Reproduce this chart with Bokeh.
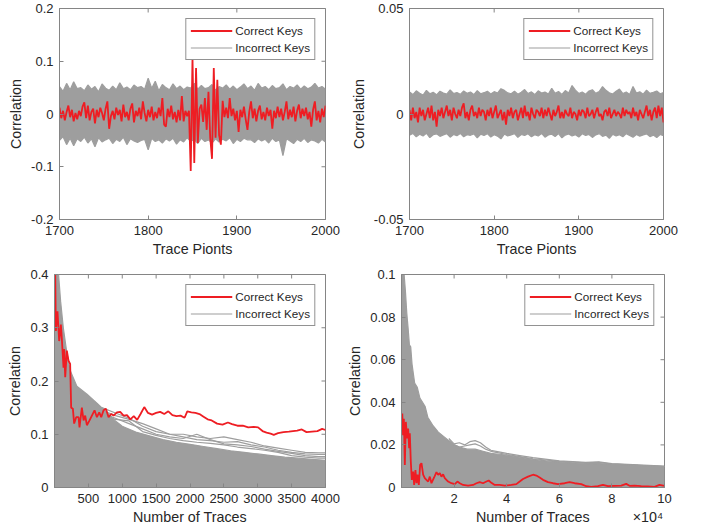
import math
from bokeh.plotting import figure
from bokeh.layouts import column, row
from bokeh.models import (Range1d, FixedTicker, LinearAxis, CustomJSTickFormatter,
                          Legend, LegendItem)
from bokeh.embed import file_html
from bokeh.resources import INLINE

# ---------------- data ----------------
# Top-left: trace points 1700..2000, red = correct key, gray band = incorrect keys
tl_red_x = list(range(1700, 2001, 2))
tl_red_y = [0.012, -0.008, 0.006, -0.012, 0.004, 0.016, -0.006, 0.008, -0.014, 0.002,
            -0.010, 0.006, -0.004, 0.014, 0.022, -0.008, 0.016, -0.012, 0.004, 0.010,
            -0.018, 0.008, -0.006, 0.012, 0.002, -0.012, 0.010, 0.024, -0.028, -0.004,
            0.006, -0.010, 0.012, -0.002, 0.008, -0.014, 0.018, -0.006, 0.004, -0.012,
            0.010, 0.020, -0.016, 0.006, -0.004, 0.012, -0.010, 0.024, 0.002, -0.014,
            0.008, -0.006, 0.014, -0.012, 0.004, -0.008, 0.012, -0.004, 0.030, -0.020,
            -0.024, 0.010, -0.006, 0.016, -0.010, 0.004, -0.016, 0.008, -0.012, 0.034,
            -0.014, 0.006, -0.004, 0.006, -0.108, 0.107, -0.093, 0.087, -0.055, 0.010,
            0.018, -0.015, 0.030, -0.030, 0.042, -0.045, -0.085, 0.087, -0.045, 0.065,
            -0.040, -0.058, 0.025, -0.006, 0.012, -0.008, 0.030, -0.004, 0.010, -0.012,
            0.006, -0.034, 0.008, -0.006, 0.014, -0.010, -0.030, 0.004, 0.024, -0.008,
            0.010, -0.014, 0.006, 0.016, -0.010, 0.004, -0.012, 0.012, -0.004, 0.008,
            -0.028, 0.006, -0.008, 0.014, -0.006, 0.010, -0.012, 0.004, 0.024, -0.010,
            0.008, -0.006, 0.014, -0.014, 0.006, 0.018, -0.008, 0.010, -0.004, 0.012,
            -0.010, 0.004, -0.024, 0.008, 0.024, -0.012, 0.006, -0.016, 0.010, -0.006,
            0.016]
tl_gray_x = list(range(1700, 2001, 4))
tl_gray_hi = [0.052, 0.043, 0.058, 0.046, 0.061, 0.048, 0.050, 0.044, 0.055, 0.047,
              0.052, 0.042, 0.057, 0.049, 0.045, 0.053, 0.046, 0.059, 0.048, 0.051,
              0.046, 0.055, 0.050, 0.052, 0.047, 0.068, 0.049, 0.062, 0.044, 0.056,
              0.050, 0.046, 0.057, 0.048, 0.053, 0.046, 0.051, 0.049, 0.058, 0.047,
              0.054, 0.048, 0.050, 0.056, 0.045, 0.052, 0.049, 0.055, 0.047, 0.053,
              0.046, 0.051, 0.057, 0.048, 0.053, 0.045, 0.058, 0.049, 0.052, 0.046,
              0.054, 0.048, 0.050, 0.057, 0.046, 0.052, 0.049, 0.055, 0.047, 0.053,
              0.048, 0.051, 0.058, 0.049, 0.052, 0.047]
tl_gray_lo = [-0.050, -0.043, -0.058, -0.046, -0.060, -0.047, -0.052, -0.044, -0.055, -0.047,
              -0.062, -0.045, -0.053, -0.049, -0.046, -0.056, -0.048, -0.052, -0.044, -0.058,
              -0.047, -0.051, -0.054, -0.050, -0.048, -0.068, -0.046, -0.052, -0.049, -0.055,
              -0.047, -0.051, -0.046, -0.057, -0.049, -0.053, -0.045, -0.052, -0.048, -0.056,
              -0.046, -0.052, -0.049, -0.055, -0.047, -0.053, -0.048, -0.051, -0.045, -0.056,
              -0.048, -0.052, -0.046, -0.049, -0.049, -0.054, -0.047, -0.051, -0.048, -0.055,
              -0.046, -0.052, -0.049, -0.079, -0.047, -0.051, -0.056, -0.048, -0.052, -0.046,
              -0.054, -0.049, -0.051, -0.055, -0.048, -0.053]

# Top-right
tr_red_x = list(range(1700, 2001, 2))
tr_red_y = [0.002, -0.003, 0.003, -0.002, 0.001, -0.004, 0.003, -0.001, 0.002, -0.003,
            0.000, 0.003, -0.002, 0.004, -0.003, 0.001, -0.006, 0.002, -0.001, 0.003,
            -0.002, 0.001, 0.004, -0.001, 0.002, -0.003, 0.003, 0.000, -0.002, 0.002,
            -0.001, 0.003, 0.005, -0.002, 0.001, -0.003, 0.002, 0.004, -0.001, 0.001,
            -0.002, 0.003, -0.001, 0.002, 0.001, -0.003, 0.002, -0.001, 0.003, -0.002,
            0.001, 0.004, -0.002, 0.000, 0.002, -0.003, 0.001, -0.005, 0.002, -0.001,
            0.003, -0.002, 0.001, 0.002, -0.003, 0.000, 0.003, -0.002, 0.004, -0.001,
            0.001, -0.003, 0.003, 0.000, -0.002, 0.002, 0.001, -0.001, 0.003, -0.002,
            0.002, -0.001, 0.003, 0.000, -0.003, 0.002, -0.001, 0.001, 0.004, -0.002,
            0.001, -0.002, 0.002, 0.000, -0.001, 0.003, -0.002, 0.001, 0.000, -0.003,
            0.002, -0.001, 0.002, 0.001, -0.002, 0.003, -0.001, 0.000, 0.002, -0.002,
            0.001, 0.003, -0.001, 0.000, -0.003, 0.001, 0.002, -0.001, 0.003, -0.002,
            0.000, 0.002, -0.001, 0.001, 0.000, -0.002, 0.003, -0.001, 0.002, 0.000,
            0.001, -0.002, 0.003, -0.001, 0.001, -0.003, 0.002, 0.000, -0.002, 0.001,
            0.004, -0.001, 0.002, -0.003, 0.001, 0.003, -0.002, 0.004, -0.001, 0.003,
            -0.004]
tr_gray_x = list(range(1700, 2001, 4))
tr_gray_hi = [0.0105, 0.0092, 0.0110, 0.0098, 0.0090, 0.0112, 0.0096, 0.0103, 0.0091, 0.0108,
              0.0099, 0.0094, 0.0114, 0.0097, 0.0102, 0.0093, 0.0109, 0.0098, 0.0104, 0.0092,
              0.0111, 0.0096, 0.0101, 0.0108, 0.0095, 0.0106, 0.0099, 0.0120, 0.0112, 0.0100,
              0.0096, 0.0108, 0.0094, 0.0103, 0.0116, 0.0097, 0.0105, 0.0092, 0.0110, 0.0099,
              0.0104, 0.0095, 0.0122, 0.0098, 0.0107, 0.0093, 0.0111, 0.0100, 0.0135, 0.0113,
              0.0097, 0.0104, 0.0094, 0.0109, 0.0115, 0.0098, 0.0106, 0.0130, 0.0112, 0.0101,
              0.0095, 0.0108, 0.0118, 0.0097, 0.0104, 0.0092, 0.0130, 0.0099, 0.0105, 0.0094,
              0.0113, 0.0098, 0.0103, 0.0109, 0.0096, 0.0102]
tr_gray_lo = [-0.0100, -0.0092, -0.0108, -0.0096, -0.0104, -0.0091, -0.0112, -0.0098, -0.0094, -0.0106,
              -0.0099, -0.0093, -0.0110, -0.0097, -0.0103, -0.0092, -0.0108, -0.0098, -0.0101, -0.0094,
              -0.0113, -0.0096, -0.0102, -0.0093, -0.0109, -0.0098, -0.0105, -0.0118, -0.0095, -0.0104,
              -0.0099, -0.0093, -0.0111, -0.0097, -0.0102, -0.0094, -0.0108, -0.0098, -0.0104, -0.0092,
              -0.0110, -0.0099, -0.0096, -0.0107, -0.0093, -0.0113, -0.0100, -0.0095, -0.0104, -0.0098,
              -0.0109, -0.0094, -0.0102, -0.0097, -0.0111, -0.0099, -0.0093, -0.0106, -0.0100, -0.0115,
              -0.0096, -0.0104, -0.0098, -0.0108, -0.0093, -0.0102, -0.0110, -0.0097, -0.0105, -0.0099,
              -0.0094, -0.0107, -0.0100, -0.0112, -0.0097, -0.0103]

# Bottom-left: correlation vs number of traces (0..4000)
bl_red_x = [1, 10, 20, 44, 69, 94, 108, 133, 143, 158, 182, 207, 231, 246, 271, 290, 320, 355,
            369, 404, 429, 453, 478, 517, 552, 591, 626, 660, 690, 724, 759, 798, 837, 872,
            921, 970, 1020, 1070, 1120, 1170, 1220, 1270, 1325, 1380, 1440, 1500, 1560, 1620,
            1680, 1740, 1800, 1860, 1920, 1960, 2020, 2080, 2140, 2200, 2260, 2320, 2400, 2480,
            2560, 2620, 2700, 2780, 2860, 2940, 3005, 3070, 3130, 3190, 3236, 3300, 3380, 3460,
            3520, 3581, 3650, 3720, 3800, 3880, 3950, 4000]
bl_red_y = [0.45, 0.41, 0.294, 0.331, 0.275, 0.306, 0.28, 0.225, 0.26, 0.207, 0.257, 0.238,
            0.232, 0.15, 0.148, 0.12, 0.132, 0.132, 0.113, 0.15, 0.126, 0.135, 0.117, 0.126,
            0.135, 0.145, 0.132, 0.141, 0.132, 0.145, 0.148, 0.132, 0.138, 0.135, 0.141, 0.142,
            0.135, 0.136, 0.128, 0.134, 0.127, 0.138, 0.151, 0.14, 0.137, 0.14, 0.142, 0.138,
            0.143, 0.136, 0.134, 0.135, 0.131, 0.143, 0.141, 0.14, 0.138, 0.133, 0.128, 0.126,
            0.12, 0.118, 0.122, 0.119, 0.116, 0.116, 0.113, 0.114, 0.113, 0.106, 0.103, 0.101,
            0.099, 0.102, 0.104, 0.105, 0.106, 0.107, 0.109, 0.104, 0.105, 0.106, 0.11, 0.108]
bl_gray_x = [0, 30, 60, 90, 130, 180, 230, 330, 480, 630, 780, 900, 1000, 1200, 1400, 1600,
             1800, 2000, 2200, 2400, 2600, 2800, 3000, 3200, 3400, 3600, 3800, 4000]
bl_gray_top = [0.45, 0.44, 0.40, 0.35, 0.30, 0.255, 0.22, 0.19, 0.175, 0.158, 0.14, 0.125,
               0.115, 0.104, 0.097, 0.09, 0.085, 0.081, 0.077, 0.073, 0.069, 0.066, 0.063,
               0.06, 0.057, 0.055, 0.053, 0.051]
bl_line_x = [700, 900, 1100, 1300, 1500, 1700, 1900, 2100, 2300, 2500, 2700, 2900, 3100,
             3300, 3500, 3700, 3900, 4000]
bl_line_1 = [0.15, 0.14, 0.13, 0.115, 0.105, 0.1, 0.1, 0.095, 0.092, 0.095, 0.09, 0.085,
             0.078, 0.074, 0.07, 0.066, 0.065, 0.065]
bl_line_2 = [0.145, 0.135, 0.128, 0.12, 0.11, 0.1, 0.095, 0.09, 0.088, 0.085, 0.086, 0.08,
             0.076, 0.07, 0.066, 0.063, 0.062, 0.062]
bl_line_3 = [0.14, 0.13, 0.12, 0.11, 0.1, 0.095, 0.092, 0.1, 0.09, 0.082, 0.08, 0.077,
             0.072, 0.068, 0.064, 0.06, 0.058, 0.058]
bl_line_4 = [0.135, 0.128, 0.125, 0.105, 0.098, 0.092, 0.088, 0.085, 0.083, 0.08, 0.076,
             0.073, 0.07, 0.066, 0.06, 0.057, 0.055, 0.055]

# Bottom-right: correlation vs number of traces (0..1e5)
br_red_x = [300, 600, 900, 1270, 1650, 2150, 2530, 2900, 3160, 3540, 3920, 4430, 4810, 5300,
            5700, 6080, 6580, 7090, 7600, 8230, 8860, 9490, 10130, 10760, 11390, 12400, 13290,
            13920, 14560, 15190, 15820, 16460, 17720, 18990, 20250, 21270, 22150, 23420, 25320,
            27220, 28480, 29750, 31010, 32280, 33160, 34180, 35440, 37340, 39240, 41770, 43670,
            44940, 46200, 48100, 50000, 51270, 52530, 53800, 55700, 57600, 59490, 62030, 63920,
            65820, 68350, 70250, 72150, 74680, 76580, 78480, 81010, 83540, 85440, 86710, 88610,
            91140, 93670, 96200, 98100, 100000]
br_red_y = [0.0347, 0.0246, 0.0323, 0.0106, 0.0308, 0.023, 0.0277, 0.0184, 0.0254, 0.0121,
            0.0036, 0.0075, 0.0012, 0.0082, 0.002, 0.006, 0.0012, 0.0106, 0.0114, 0.006,
            0.0044, 0.0036, 0.0028, 0.0051, 0.002, 0.0047, 0.0072, 0.006, 0.0067, 0.0051,
            0.0062, 0.0044, 0.0028, 0.002, 0.0016, 0.0028, 0.002, 0.0012, 0.0009, 0.0012,
            0.002, 0.0025, 0.002, 0.0028, 0.0033, 0.0022, 0.0012, 0.0012, 0.0009, 0.0012,
            0.0016, 0.0028, 0.004, 0.0051, 0.006, 0.0056, 0.0047, 0.0036, 0.0025, 0.002,
            0.0016, 0.002, 0.0025, 0.002, 0.0016, 0.0006, 0.0003, 0.0006, 0.0012, 0.0006,
            0.0008, 0.0009, 0.0017, 0.0008, 0.0009, 0.0006, 0.0005, 0.0003, 0.0012, 0.0008]
br_gray_x = [0, 1000, 1500, 2000, 2500, 3000, 3500, 4000, 5000, 6000, 7000, 8000, 9000, 10000,
             12000, 14000, 16000, 18000, 20000, 22000, 25000, 28000, 31000, 34000, 38000, 42000,
             46000, 50000, 55000, 60000, 65000, 70000, 75000, 80000, 85000, 90000, 95000, 100000]
br_gray_top = [0.11, 0.1, 0.092, 0.082, 0.075, 0.067, 0.066, 0.058, 0.049, 0.047, 0.042, 0.04,
               0.038, 0.033, 0.029, 0.026, 0.024, 0.022, 0.02, 0.019, 0.018, 0.018, 0.017,
               0.016, 0.0155, 0.0148, 0.014, 0.0132, 0.0125, 0.012, 0.0116, 0.0113, 0.0112,
               0.011, 0.0107, 0.0104, 0.0102, 0.0098]
br_line_x = [18000, 20000, 22000, 24000, 26000, 28000, 30000, 32000, 34000, 36000, 40000,
             45000, 50000, 60000, 70000, 75000, 80000, 90000, 100000]
br_line_1 = [0.023, 0.0205, 0.021, 0.02, 0.0215, 0.022, 0.021, 0.019, 0.0175, 0.017, 0.016,
             0.015, 0.014, 0.0125, 0.0118, 0.012, 0.0112, 0.0106, 0.01]
br_line_2 = [0.022, 0.02, 0.019, 0.0195, 0.02, 0.0205, 0.0195, 0.018, 0.017, 0.0165, 0.0155,
             0.0145, 0.0135, 0.0123, 0.0116, 0.0118, 0.011, 0.0104, 0.0098]

# Ticks and texts
tl_xticks = [1700, 1800, 1900, 2000]
tl_xlabels = ["1700", "1800", "1900", "2000"]
tl_yticks = [-0.2, -0.1, 0, 0.1, 0.2]
tl_ylabels = ["-0.2", "-0.1", "0", "0.1", "0.2"]
tr_yticks = [-0.05, 0, 0.05]
tr_ylabels = ["-0.05", "0", "0.05"]
bl_xticks = [500, 1000, 1500, 2000, 2500, 3000, 3500, 4000]
bl_xlabels = ["500", "1000", "1500", "2000", "2500", "3000", "3500", "4000"]
bl_yticks = [0, 0.1, 0.2, 0.3, 0.4]
bl_ylabels = ["0", "0.1", "0.2", "0.3", "0.4"]
br_xticks = [20000, 40000, 60000, 80000, 100000]
br_xlabels = ["2", "4", "6", "8", "10"]
br_yticks = [0, 0.02, 0.04, 0.06, 0.08, 0.1]
br_ylabels = ["0", "0.02", "0.04", "0.06", "0.08", "0.1"]
# bottom-right: axis title and the exponent note share one line under the tick labels
br_note_pos = [50000, 93700]
br_note_txt = ["Number of Traces", "\u00d710\u2074"]

# ---------------- styling ----------------
RED = "#ee1d23"
GRAY = "#9e9e9e"
AXIS = "#858585"
TEXT = "#262626"
FONT = "Liberation Sans"


def fmt(ticks, labels):
    return CustomJSTickFormatter(args=dict(tv=ticks, tl=labels), code="""
        for (let i = 0; i < tv.length; i++) {
            if (Math.abs(tv[i] - tick) < 1e-9) { return tl[i]; }
        }
        return "";
    """)


def style_axis(ax, is_x):
    ax.axis_line_color = AXIS
    ax.major_tick_line_color = AXIS
    ax.major_tick_in = 4
    ax.major_tick_out = 0
    ax.minor_tick_line_color = None
    ax.major_label_text_font = FONT
    ax.major_label_text_font_size = "13px"
    ax.major_label_text_color = TEXT
    ax.axis_label_text_font = FONT
    ax.axis_label_text_font_size = "14.3px"
    ax.axis_label_text_font_style = "normal"
    ax.axis_label_text_color = TEXT
    ax.major_label_standoff = 6
    ax.axis_label_standoff = 3 if is_x else 4


def panel(w, h, bl, br, bt, bb, xr, yr, xt, xl, yt, yl, xlabel):
    p = figure(width=w, height=h, min_border_left=bl, min_border_right=br,
               min_border_top=bt, min_border_bottom=bb,
               x_range=Range1d(*xr), y_range=Range1d(*yr),
               output_backend="svg", toolbar_location=None,
               x_axis_label=xlabel, y_axis_label="Correlation",
               background_fill_color="white", border_fill_color="white")
    p.xgrid.visible = False
    p.ygrid.visible = False
    p.outline_line_color = AXIS
    p.xaxis.ticker = FixedTicker(ticks=xt)
    p.xaxis.formatter = fmt(xt, xl)
    p.yaxis.ticker = FixedTicker(ticks=yt)
    p.yaxis.formatter = fmt(yt, yl)
    style_axis(p.xaxis[0], True)
    style_axis(p.yaxis[0], False)
    # inward ticks on the top and right edges of the box (half of each dash is clipped)
    p.scatter(x=xt, y=[yr[1]] * len(xt), marker="dash", angle=math.pi / 2, size=8,
              line_color=AXIS, line_width=1)
    p.scatter(x=[xr[1]] * len(yt), y=yt, marker="dash", size=8,
              line_color=AXIS, line_width=1)
    return p


def add_legend(p, red_r, gray_r):
    leg = Legend(items=[LegendItem(label="Correct Keys", renderers=[red_r]),
                        LegendItem(label="Incorrect Keys", renderers=[gray_r])],
                 location="top_right", margin=10, padding=4, spacing=2,
                 label_text_font=FONT, label_text_font_size="11.7px",
                 label_text_color=TEXT, glyph_width=42, glyph_height=15,
                 label_height=15, label_standoff=3,
                 border_line_color="#262626", border_line_width=1,
                 background_fill_color="white", background_fill_alpha=1.0)
    p.add_layout(leg)


# Top row (height 267), bottom row (height 263)
tl = panel(347, 267, 59, 22, 8, 48, (1700, 2000), (-0.2, 0.2),
           tl_xticks, tl_xlabels, tl_yticks, tl_ylabels, "Trace Pionts")
tl.varea(x=tl_gray_x, y1=tl_gray_lo, y2=tl_gray_hi, fill_color=GRAY)
g1 = tl.line(tl_gray_x, tl_gray_hi, line_color=GRAY, line_width=1.2)
tl.line(tl_gray_x, tl_gray_lo, line_color=GRAY, line_width=1.2)
r1 = tl.line(tl_red_x, tl_red_y, line_color=RED, line_width=1.8)
add_legend(tl, r1, g1)

tr = panel(359, 267, 57, 43, 8, 48, (1700, 2000), (-0.05, 0.05),
           tl_xticks, tl_xlabels, tr_yticks, tr_ylabels, "Trace Pionts")
tr.varea(x=tr_gray_x, y1=tr_gray_lo, y2=tr_gray_hi, fill_color=GRAY)
g2 = tr.line(tr_gray_x, tr_gray_hi, line_color=GRAY, line_width=1.2)
tr.line(tr_gray_x, tr_gray_lo, line_color=GRAY, line_width=1.2)
r2 = tr.line(tr_red_x, tr_red_y, line_color=RED, line_width=1.8)
add_legend(tr, r2, g2)

bl = panel(344, 263, 54, 19, 7, 43, (0, 4000), (0, 0.4),
           bl_xticks, bl_xlabels, bl_yticks, bl_ylabels, "Number of Traces")
bl.varea(x=bl_gray_x, y1=[0] * len(bl_gray_x), y2=bl_gray_top, fill_color=GRAY)
g3 = bl.line(bl_gray_x, bl_gray_top, line_color=GRAY, line_width=1.2)
for ly in (bl_line_1, bl_line_2, bl_line_3, bl_line_4):
    bl.line(bl_line_x, ly, line_color=GRAY, line_width=1.2)
r3 = bl.line(bl_red_x, bl_red_y, line_color=RED, line_width=1.8)
add_legend(bl, r3, g3)

br = panel(362, 263, 56, 42, 7, 43, (0, 100000), (0, 0.1),
           br_xticks, br_xlabels, br_yticks, br_ylabels, None)
br.varea(x=br_gray_x, y1=[0] * len(br_gray_x), y2=br_gray_top, fill_color=GRAY)
g4 = br.line(br_gray_x, br_gray_top, line_color=GRAY, line_width=1.2)
for ly in (br_line_1, br_line_2):
    br.line(br_line_x, ly, line_color=GRAY, line_width=1.2)
r4 = br.line(br_red_x, br_red_y, line_color=RED, line_width=1.8)
add_legend(br, r4, g4)
note_axis = LinearAxis(ticker=FixedTicker(ticks=br_note_pos),
                       formatter=fmt(br_note_pos, br_note_txt),
                       axis_line_color=None, major_tick_line_color=None,
                       minor_tick_line_color=None, major_tick_in=0, major_tick_out=0,
                       major_label_standoff=3, major_label_text_font=FONT,
                       major_label_text_font_size="14.3px", major_label_text_color=TEXT)
br.add_layout(note_axis, "below")

layout = column(row(tl, tr), row(bl, br))
open("out.html", "w").write(file_html(layout, INLINE))
